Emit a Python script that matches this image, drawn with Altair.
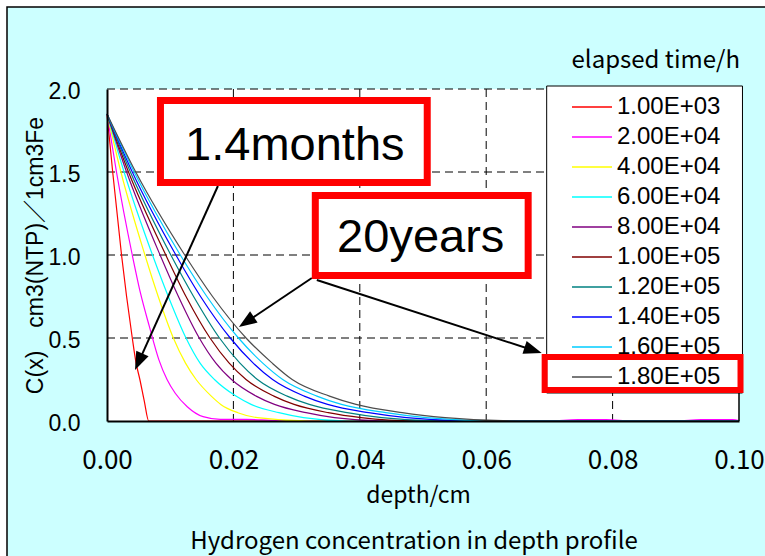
import altair as alt
import pandas as pd
import numpy as np

# ---------------- data ----------------
series = ["1.00E+03", "2.00E+04", "4.00E+04", "6.00E+04", "8.00E+04",
          "1.00E+05", "1.20E+05", "1.40E+05", "1.60E+05", "1.80E+05"]
colors = ["#FF0000", "#FF00FF", "#FFFF00", "#00FFFF", "#800080",
          "#800000", "#008080", "#0000FF", "#00CCFF", "#4D4D4D"]

# 1.00E+03 h
x_1e3 = [0, 0.0009, 0.0023, 0.0031, 0.0040, 0.0046, 0.0052, 0.0059, 0.0066, 0.1]
y_1e3 = [1.85, 1.5, 1.0, 0.75, 0.5, 0.35, 0.25, 0.12, 0.0, 0.0]

# 2.00E+04 h
x_2e4 = [0, 0.0015, 0.0040, 0.0053, 0.0067, 0.0082, 0.0095, 0.0108, 0.0127, 0.0152,
         0.0179, 0.022, 0.026, 0.030, 0.070, 0.0745, 0.079, 0.083, 0.090, 0.094, 0.099, 0.1]
y_2e4 = [1.85, 1.5, 1.0, 0.77, 0.57, 0.37, 0.25, 0.167, 0.086, 0.026,
         0.010, 0.010, 0.004, 0.0, 0.0, 0.008, 0.008, 0.0, 0.0, 0.008, 0.008, 0.003]

# concentration levels at which the later curves were read
y_levels = [1.85, 1.5, 1.0, 0.75, 0.5, 0.35, 0.25, 0.15, 0.10, 0.05, 0.02, 0.0, 0.0]

x_4e4 = [0, 0.0022, 0.0060, 0.0081, 0.0105, 0.0124, 0.0141, 0.0165, 0.0180, 0.0207, 0.0238, 0.0320, 0.1]
x_6e4 = [0, 0.0027, 0.0072, 0.0097, 0.0125, 0.0147, 0.0170, 0.0204, 0.0228, 0.0272, 0.0311, 0.0380, 0.1]
x_8e4 = [0, 0.0031, 0.0084, 0.0113, 0.0146, 0.0172, 0.0197, 0.0236, 0.0265, 0.0315, 0.0360, 0.0440, 0.1]
x_1e5 = [0, 0.0034, 0.0093, 0.0125, 0.0163, 0.0193, 0.0220, 0.0264, 0.0296, 0.0350, 0.0402, 0.0490, 0.1]
x_12e4 = [0, 0.0037, 0.0101, 0.0137, 0.0178, 0.0210, 0.0238, 0.0285, 0.0320, 0.0380, 0.0435, 0.0530, 0.1]
x_14e4 = [0, 0.0040, 0.0109, 0.0148, 0.0195, 0.0231, 0.0262, 0.0312, 0.0349, 0.0414, 0.0474, 0.0578, 0.1]
x_16e4 = [0, 0.0043, 0.0116, 0.0158, 0.0208, 0.0246, 0.0278, 0.0332, 0.0371, 0.0441, 0.0505, 0.0615, 0.1]
x_18e4 = [0, 0.00455, 0.0123, 0.0167, 0.0220, 0.0261, 0.0293, 0.0352, 0.0394, 0.0467, 0.0535, 0.0652, 0.1]

curve_x = [x_1e3, x_2e4, x_4e4, x_6e4, x_8e4, x_1e5, x_12e4, x_14e4, x_16e4, x_18e4]
curve_y = [y_1e3, y_2e4] + [y_levels] * 8

x_ticks = [0.0, 0.02, 0.04, 0.06, 0.08, 0.10]
y_ticks = [0.0, 0.5, 1.0, 1.5, 2.0]
x_grid = [0.02, 0.04, 0.06, 0.08]
y_grid = [0.5, 1.0, 1.5, 2.0]

# annotations (data units)
box_text = ["1.4months", "20years"]
box_x1 = [0.00846, 0.03296]
box_x2 = [0.05067, 0.06664]
box_y1 = [1.9307, 1.3584]
box_y2 = [1.4367, 0.8765]
box_tx = [0.02972, 0.04964]
box_ty = [1.572, 1.018]

arrow_x1 = [0.01755, 0.03241, 0.03320]
arrow_y1 = [1.4157, 0.8614, 0.8494]
arrow_x2 = [0.00443, 0.02087, 0.06878]
arrow_y2 = [0.3072, 0.5663, 0.4096]

legend_box = dict(x=[0.06957], x2=[0.10055], y=[2.018], y2=[0.1687])
legend_hl = dict(x=[0.06925], x2=[0.10024], y=[0.3855], y2=[0.1867])

# ---------------- build tables ----------------
rows = []
for s, xs_, ys_ in zip(series, curve_x, curve_y):
    for i, (xv, yv) in enumerate(zip(xs_, ys_)):
        rows.append({"series": s, "depth": xv, "C": yv, "i": i})
df = pd.DataFrame(rows)

W, H = 632, 332
sx, sy = W / 0.1, H / 2.0
head = 18
heads = []
lines = []
for x1, y1, x2, y2 in zip(arrow_x1, arrow_y1, arrow_x2, arrow_y2):
    dx = (x2 - x1) * sx
    dy = -(y2 - y1) * sy
    L = np.hypot(dx, dy)
    ux, uy = dx / L, dy / L
    cx = x2 - ux * (head / 2) / sx
    cy = y2 + uy * (head / 2) / sy
    ang = (np.degrees(np.arctan2(dx, -dy)) + 360) % 360
    heads.append({"x": cx, "y": cy, "ang": float(ang)})
    lines.append({"x": x1, "y": y1, "x2": cx, "y2": cy})
heads = pd.DataFrame(heads)
lines = pd.DataFrame(lines)

boxes = pd.DataFrame({"t": box_text, "x": box_x1, "x2": box_x2, "y": box_y1, "y2": box_y2,
                      "tx": box_tx, "ty": box_ty})

xs = alt.Scale(domain=[0, 0.1], nice=False, zero=False)
ys = alt.Scale(domain=[0, 2.0], nice=False)

one = pd.DataFrame({"a": [0]})

frame = alt.Chart(one).mark_rect(fill="#CCFFFF", stroke="#000000", strokeWidth=1.5).encode(
    x=alt.value(-100), x2=alt.value(720), y=alt.value(-82), y2=alt.value(520))
plotbg = alt.Chart(one).mark_rect(fill="#FFFFFF").encode(
    x=alt.value(0), x2=alt.value(W), y=alt.value(0), y2=alt.value(H))

vgrid = alt.Chart(pd.DataFrame({"g": x_grid})).mark_rule(
    color="#000000", strokeWidth=1, strokeDash=[8, 5]).encode(x=alt.X("g:Q", scale=xs))
hgrid = alt.Chart(pd.DataFrame({"g": y_grid})).mark_rule(
    color="#000000", strokeWidth=1, strokeDash=[8, 5]).encode(y=alt.Y("g:Q", scale=ys))
rborder = alt.Chart(pd.DataFrame({"g": [0.1]})).mark_rule(
    color="#000000", strokeWidth=1.5).encode(x=alt.X("g:Q", scale=xs))

xaxis = alt.Axis(values=x_ticks, format=".2f", grid=False, ticks=False, tickSize=0,
                 labelFont="Noto Sans CJK JP", labelFontSize=26, labelColor="#000000",
                 labelBaseline="alphabetic", labelPadding=47, labelFlush=False, labelOverlap=False,
                 domainColor="#000000", domainWidth=2,
                 title="depth/cm", titleFont="Noto Sans CJK JP", titleFontSize=23,
                 titleFontWeight="normal", titleColor="#000000", titleX=311, titleY=81,
                 titleBaseline="alphabetic", titleAlign="center", zindex=1)
yaxis = alt.Axis(values=y_ticks, format=".1f", grid=False, ticks=False, tickSize=0,
                 labelFont="Liberation Sans", labelFontSize=23, labelColor="#000000",
                 labelPadding=27, labelOffset=2, labelFlush=False, labelOverlap=False,
                 domainColor="#000000", domainWidth=2,
                 title="C(x)　cm3(NTP)／1cm3Fe", titleFont="Liberation Sans, Noto Sans CJK JP",
                 titleFontSize=23, titleFontWeight="normal", titleColor="#000000",
                 titleAngle=270, titleX=-65, titleY=166, titleBaseline="alphabetic",
                 titleAlign="center", zindex=1)

curves = alt.Chart(df).mark_line(strokeWidth=1.2, interpolate="monotone").encode(
    x=alt.X("depth:Q", scale=xs, axis=xaxis),
    y=alt.Y("C:Q", scale=ys, axis=yaxis),
    color=alt.Color("series:N", scale=alt.Scale(domain=series, range=colors), sort=series,
                    legend=alt.Legend(orient="none", legendX=464, legendY=3, title=None,
                                      labelFont="Liberation Sans", labelFontSize=24,
                                      labelColor="#000000", symbolType="stroke",
                                      symbolSize=1600, symbolStrokeWidth=1.5,
                                      labelOffset=4, rowPadding=0, clipHeight=30, padding=0)),
    order=alt.Order("i:Q"),
)

lbox = alt.Chart(pd.DataFrame(legend_box)).mark_rect(fill="#FFFFFF", stroke="#000000", strokeWidth=1).encode(
    x=alt.X("x:Q", scale=xs), x2="x2:Q", y=alt.Y("y:Q", scale=ys), y2="y2:Q")
lhl = alt.Chart(pd.DataFrame(legend_hl)).mark_rect(fill="transparent", stroke="#FF0000", strokeWidth=6).encode(
    x=alt.X("x:Q", scale=xs), x2="x2:Q", y=alt.Y("y:Q", scale=ys), y2="y2:Q")

abox = alt.Chart(boxes).mark_rect(fill="#FFFFFF", stroke="#FF0000", strokeWidth=7).encode(
    x=alt.X("x:Q", scale=xs), x2="x2:Q", y=alt.Y("y:Q", scale=ys), y2="y2:Q")
atext = alt.Chart(boxes).mark_text(font="Liberation Sans", fontSize=47, color="#000000",
                                   align="center", baseline="alphabetic").encode(
    x=alt.X("tx:Q", scale=xs), y=alt.Y("ty:Q", scale=ys), text="t:N")

alines = alt.Chart(lines).mark_rule(color="#000000", strokeWidth=2).encode(
    x=alt.X("x:Q", scale=xs), y=alt.Y("y:Q", scale=ys), x2="x2:Q", y2="y2:Q")
aheads = alt.Chart(heads).mark_point(shape="M0,-1L0.75,1L-0.75,1Z", size=head * head,
                                     filled=True, color="#000000", opacity=1).encode(
    x=alt.X("x:Q", scale=xs), y=alt.Y("y:Q", scale=ys), angle=alt.Angle("ang:Q", scale=None))

ttl_legend = alt.Chart(one).mark_text(text="elapsed time/h", font="Noto Sans CJK JP", fontSize=24,
                                      color="#000000", align="right", baseline="alphabetic").encode(
    x=alt.value(633), y=alt.value(-21))
ttl_bottom = alt.Chart(one).mark_text(text="Hydrogen concentration in depth profile",
                                      font="Noto Sans CJK JP", fontSize=24, color="#000000",
                                      align="center", baseline="alphabetic").encode(
    x=alt.value(307), y=alt.value(460))

chart = alt.layer(frame, plotbg, vgrid, hgrid, curves, rborder, lbox, lhl,
                  alines, abox, atext, aheads, ttl_legend, ttl_bottom).properties(
    width=W, height=H,
    autosize=alt.AutoSizeParams(type="none"),
    padding={"left": 107, "top": 89, "right": 26, "bottom": 135},
).configure(background="#FFFFFF").configure_view(strokeWidth=0)

chart.save("out.html", embed_options={"renderer": "svg", "actions": False})
